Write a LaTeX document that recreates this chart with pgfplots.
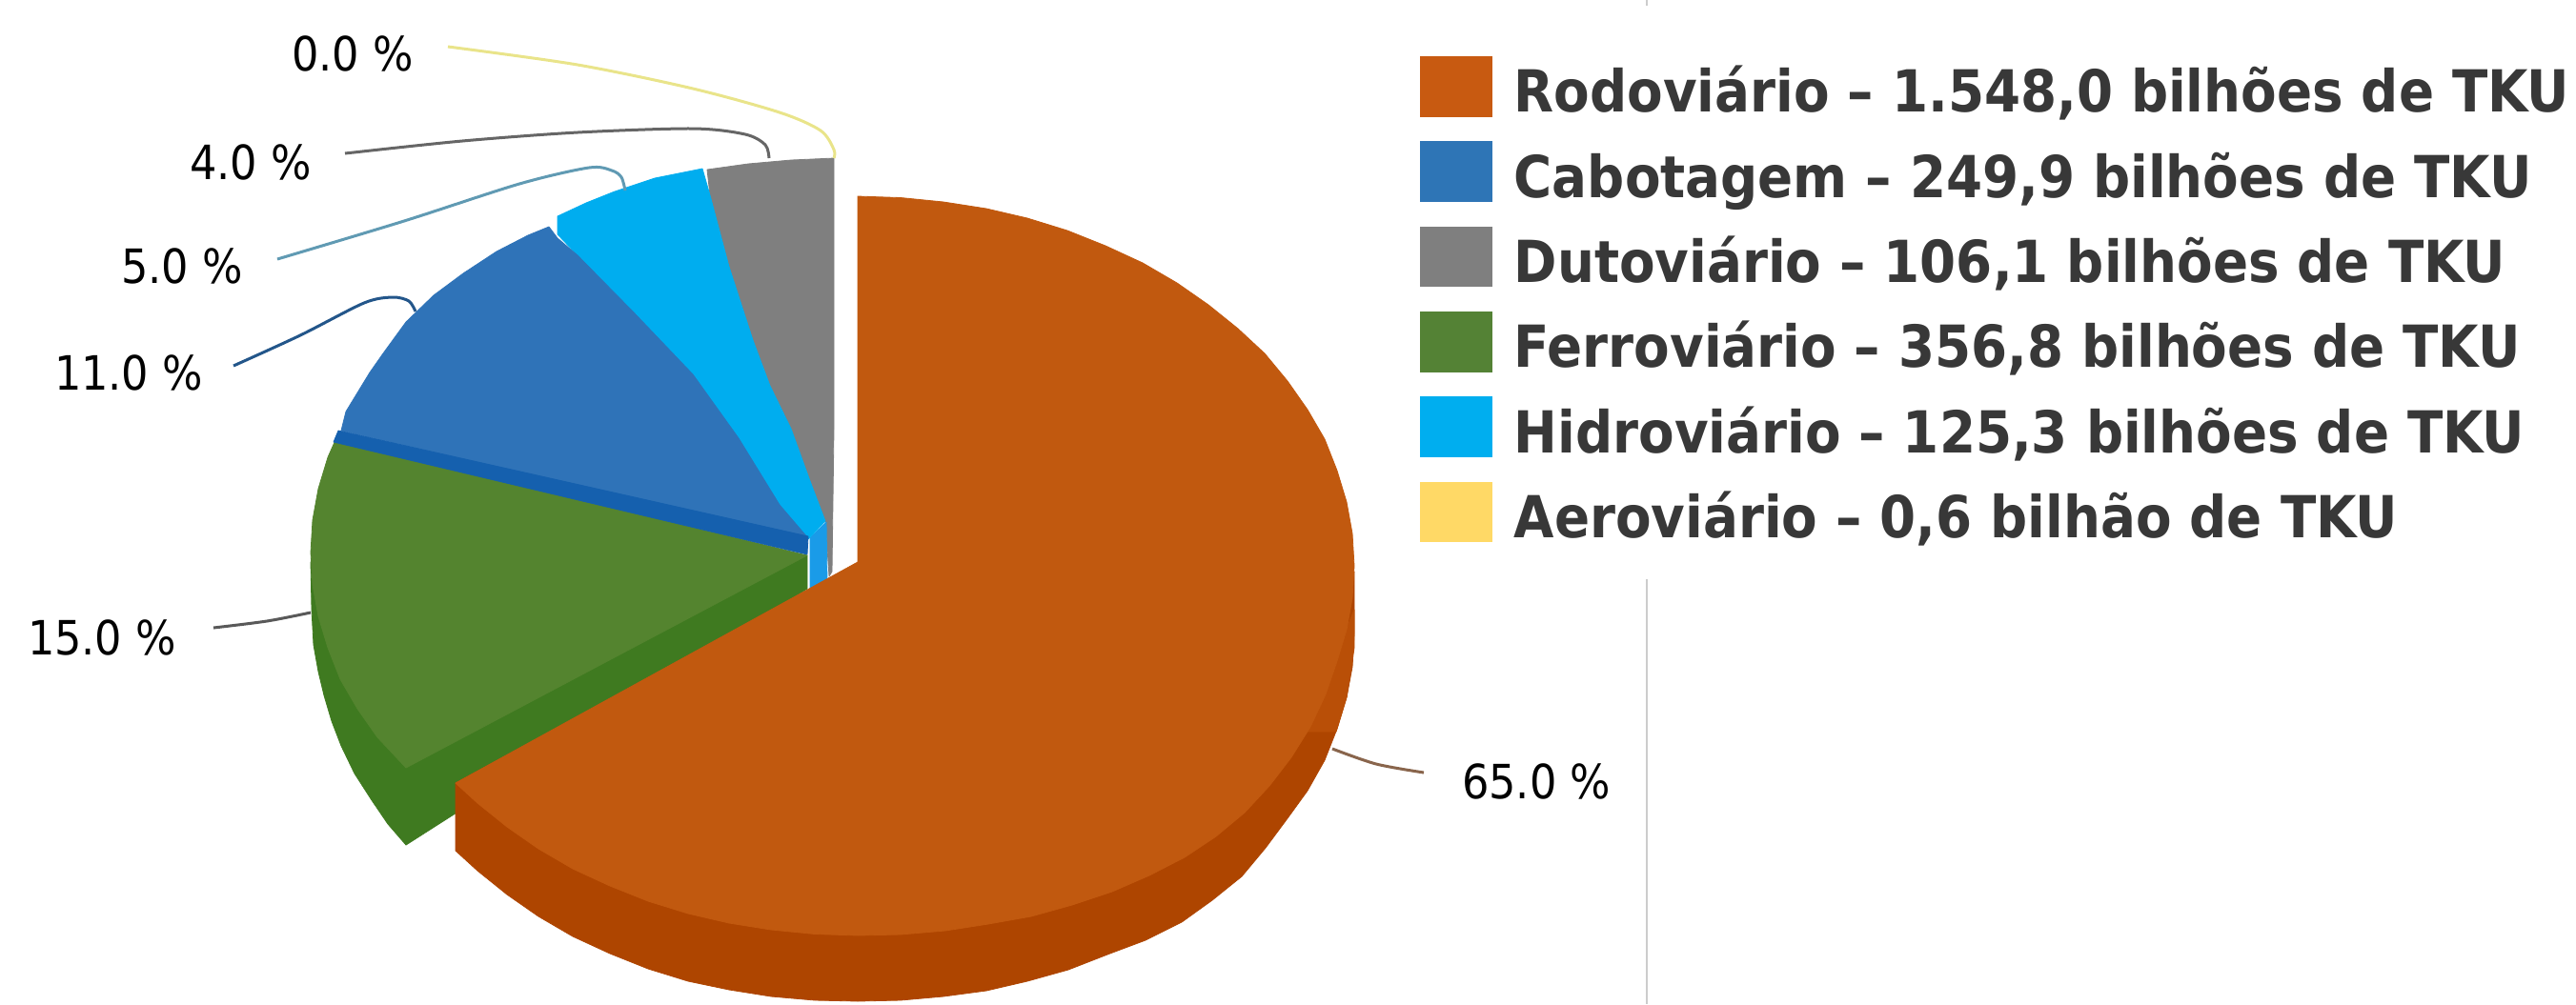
\documentclass[border=0pt]{standalone}
\usepackage{pgfplots}
\usepackage{fontspec}
\pgfplotsset{compat=1.18}
\setmainfont{DejaVu Sans Condensed}
\definecolor{orangeT}{HTML}{C1590F}
\definecolor{orangeS}{HTML}{AE4500}
\definecolor{orangeM}{HTML}{B94F07}
\definecolor{greenT}{HTML}{54842F}
\definecolor{greenS}{HTML}{3F7A20}
\definecolor{blueT}{HTML}{2F73B8}
\definecolor{blueS}{HTML}{1560AE}
\definecolor{lblueT}{HTML}{00ADEF}
\definecolor{lblueS}{HTML}{1A9BE8}
\definecolor{grayT}{HTML}{7F7F7F}
\definecolor{legO}{HTML}{C85A11}
\definecolor{legB}{HTML}{2E75B6}
\definecolor{legG}{HTML}{7F7F7F}
\definecolor{legV}{HTML}{548235}
\definecolor{legL}{HTML}{00AEEF}
\definecolor{legY}{HTML}{FFD966}
\pgfplotsset{
  swatch/.style={legend image code/.code={\fill[#1] (0pt,-5pt) rectangle (18.5pt,10.5pt);}},
  slice/.style={fill=#1,draw=#1,line width=0.2pt,line join=round,forget plot},
  leader/.style={draw=#1,line width=0.75pt,smooth,tension=0.5,forget plot},
}
\begin{document}
\begin{tikzpicture}
\useasboundingbox (0,0) rectangle (675.75pt,263.5pt);
\begin{axis}[
  at={(0,0)},anchor=south west,
  scale only axis,width=675.75pt,height=263.5pt,
  xmin=0,xmax=2703,ymin=0,ymax=1054,y dir=reverse,
  hide axis,clip=false,
  legend cell align=left,
  legend style={
    at={(axis cs:1490,59)},anchor=north west,draw=none,fill=none,
    inner sep=0pt,outer sep=0pt,row sep=4.13pt,column sep=5.8pt,
    font=\bfseries\fontsize{15.2pt}{17pt}\selectfont\color{black!78},
    nodes={inner sep=0pt,outer sep=0pt,text height=11.5pt,text depth=3.5pt},
  },
]
% legend
\addlegendimage{swatch=legO}\addlegendentry{Rodoviário – 1.548,0 bilhões de TKU}
\addlegendimage{swatch=legB}\addlegendentry{Cabotagem – 249,9 bilhões de TKU}
\addlegendimage{swatch=legG}\addlegendentry{Dutoviário – 106,1 bilhões de TKU}
\addlegendimage{swatch=legV}\addlegendentry{Ferroviário – 356,8 bilhões de TKU}
\addlegendimage{swatch=legL}\addlegendentry{Hidroviário – 125,3 bilhões de TKU}
\addlegendimage{swatch=legY}\addlegendentry{Aeroviário – 0,6 bilhão de TKU}
% thin rule behind the chart
\addplot[draw=black!20,line width=0.3pt,forget plot] coordinates {(1728,0)(1728,6)};
\addplot[draw=black!20,line width=0.3pt,forget plot] coordinates {(1728,608)(1728,1054)};
% Dutoviario 4%
\addplot[slice=grayT] coordinates {(875,166)(830,168)(785,172)(742,178)(745,205)(765,280)(790,357)(808,405)(830,450)(850,505)(866,547)(870,605)(873,600)(875,450)} --cycle;
% Hidroviario 5%
\addplot[slice=lblueS] coordinates {(850,565)(867,548)(868,610)(850,618)} --cycle;
\addplot[slice=lblueT] coordinates {(848,566)(818,530)(775,460)(727,393)(665,328)(606,268)(585,246)(585,227)(615,213)(645,201)(687,187)(737,177)(745,205)(765,280)(790,357)(808,405)(830,450)(850,505)(866,547)} --cycle;
% Cabotagem 11%
\addplot[slice=blueT] coordinates {(848,565)(358,452)(363,432)(388,391)(402,371)(426,338)(455,310)(486,287)(521,264)(554,247)(576,238)(585,250)(606,268)(665,328)(727,393)(775,460)(818,530)} --cycle;
% Ferroviario 15%
\addplot[slice=greenS] coordinates {(326,590)(327,640)(329,677)(334,705)(340,730)(348,757)(358,783)(372,812)(390,840)(407,865)(426,887)(847,618)(847,583)} --cycle;
\addplot[slice=greenT] coordinates {(847,583)(426,806)(396,774)(375,744)(357,713)(344,680)(334,647)(328,614)(326,580)(328,546)(334,513)(344,480)(352,462)} --cycle;
\addplot[slice=blueS] coordinates {(355,452)(350,464)(847,582)(848,563)} --cycle;
% Rodoviario 65%
\addplot[slice=orangeS] coordinates {(1421,600)(1421,665)(1419,700)(1413,732)(1403,765)(1390,798)(1372,830)(1351,859)(1328,890)(1303,920)(1272,945)(1240,968)(1202,987)(1162,1002)(1121,1018)(1078,1030)(1035,1040)(990,1046)(945,1050)(900,1051)(855,1050)(809,1046)(765,1039)(722,1030)(680,1017)(640,1001)(601,983)(565,962)(532,939)(501,914)(478,893)(478,822)(900,594)} --cycle;
\addplot[slice=orangeM] coordinates {(1421,640)(1421,680)(1413,732)(1402,768)(1369,768)} --cycle;
\addplot[slice=orangeT] coordinates {(900,206)(945,207.5)(990,212)(1035,219)(1078,229)(1120,242)(1160,258)(1199,276)(1235,297)(1268,320)(1299,345)(1327,371)(1351,400)(1372,430)(1390,461)(1403,494)(1413,527)(1419,560)(1421,594)(1419,628)(1413,661)(1403,694)(1391,729)(1375,763)(1355,795)(1332,825)(1306,853)(1276,878)(1243,900)(1206,919)(1167,936)(1125,950)(1082,962)(1037,970)(992,977)(945,981)(900,982)(855,980.5)(809,976)(765,969)(722,959)(680,946)(640,930)(601,912)(565,891)(532,868)(501,843)(478,822)(900,590)} --cycle;
% leaders
\addplot[leader=yellow!45!white!90!black] coordinates {(470,49)(606,68)(727,93)(818,118)(861,137)(875,157)(875,166)};
\addplot[leader=black!60] coordinates {(362,161)(485,148)(606,139)(727,135)(782,141)(803,152)(807,166)};
\addplot[leader=cyan!60!black!80] coordinates {(291,272)(424,232)(545,193)(618,176)(642,179)(652,186)(656,200)};
\addplot[leader=blueT!75!black] coordinates {(245,384)(315,352)(382,318)(412,312)(429,316)(436,327)};
\addplot[leader=black!65] coordinates {(224,659)(280,652)(326,643)};
\addplot[leader=orangeS!50!black!70] coordinates {(1398,786)(1444,802)(1494,811)};
% labels
\node[font=\fontsize{12.4pt}{14pt}\selectfont,text=black] at (axis cs:370,56) {0.0 \%};
\node[font=\fontsize{12.4pt}{14pt}\selectfont,text=black] at (axis cs:263,170) {4.0 \%};
\node[font=\fontsize{12.4pt}{14pt}\selectfont,text=black] at (axis cs:191,279) {5.0 \%};
\node[font=\fontsize{12.4pt}{14pt}\selectfont,text=black] at (axis cs:135,391) {11.0 \%};
\node[font=\fontsize{12.4pt}{14pt}\selectfont,text=black] at (axis cs:107,669) {15.0 \%};
\node[font=\fontsize{12.4pt}{14pt}\selectfont,text=black] at (axis cs:1612,820) {65.0 \%};
\end{axis}
\end{tikzpicture}
\end{document}
